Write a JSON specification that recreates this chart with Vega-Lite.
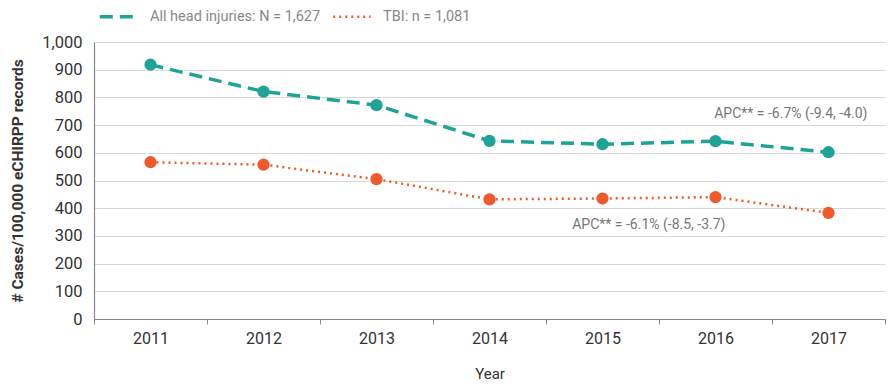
{
  "$schema": "https://vega.github.io/schema/vega-lite/v6.json",
  "width": 791,
  "height": 277,
  "autosize": "none",
  "padding": {"left": 94, "top": 42, "right": 10, "bottom": 72},
  "background": "white",
  "config": {
    "font": "Roboto",
    "view": {"stroke": null},
    "axis": {"labelFont": "Roboto", "titleFont": "Roboto"}
  },
  "datasets": {
    "main": [
      {"year": "2011", "series": "All head injuries: N = 1,627", "value": 918},
      {"year": "2012", "series": "All head injuries: N = 1,627", "value": 821},
      {"year": "2013", "series": "All head injuries: N = 1,627", "value": 772},
      {"year": "2014", "series": "All head injuries: N = 1,627", "value": 643},
      {"year": "2015", "series": "All head injuries: N = 1,627", "value": 631},
      {"year": "2016", "series": "All head injuries: N = 1,627", "value": 642},
      {"year": "2017", "series": "All head injuries: N = 1,627", "value": 602},
      {"year": "2011", "series": "TBI: n = 1,081", "value": 566},
      {"year": "2012", "series": "TBI: n = 1,081", "value": 557},
      {"year": "2013", "series": "TBI: n = 1,081", "value": 505},
      {"year": "2014", "series": "TBI: n = 1,081", "value": 432},
      {"year": "2015", "series": "TBI: n = 1,081", "value": 435},
      {"year": "2016", "series": "TBI: n = 1,081", "value": 440},
      {"year": "2017", "series": "TBI: n = 1,081", "value": 383}
    ],
    "notes1": [
      {"year": "2017", "value": 740, "label": "APC** = -6.7% (-9.4, -4.0)"}
    ],
    "notes2": [
      {"year": "2016", "value": 338, "label": "APC** = -6.1% (-8.5, -3.7)"}
    ]
  },
  "encoding": {
    "x": {
      "field": "year", "type": "ordinal", "bandPosition": 0.5,
      "scale": {"type": "band", "paddingInner": 0, "paddingOuter": 0},
      "axis": {
        "title": "Year", "titleFontSize": 15, "titleFontWeight": "normal", "titleColor": "#333",
        "titlePadding": 20, "labelAngle": 0, "labelFontSize": 16, "labelColor": "#333",
        "labelPadding": 6, "tickBand": "extent", "tickSize": 5, "tickColor": "#888",
        "domainColor": "#888", "domainWidth": 1.2, "grid": false
      }
    },
    "y": {
      "field": "value", "type": "quantitative",
      "scale": {"domain": [0, 1000], "nice": false, "zero": true},
      "axis": {
        "title": "# Cases/100,000 eCHIRPP records", "titleFontSize": 15.5, "titleFontWeight": "bold",
        "titleColor": "#333", "titlePadding": 16, "labelFontSize": 16.5, "labelColor": "#333",
        "labelPadding": 12, "ticks": false, "format": ",.0f",
        "values": [0, 100, 200, 300, 400, 500, 600, 700, 800, 900, 1000],
        "gridColor": "#d9d9d9", "domainColor": "#888", "domainWidth": 1.2
      }
    }
  },
  "layer": [
    {
      "data": {"name": "main"},
      "mark": {"type": "line", "strokeCap": "butt"},
      "encoding": {
        "color": {
          "field": "series", "type": "nominal",
          "scale": {"domain": ["All head injuries: N = 1,627", "TBI: n = 1,081"], "range": ["#1fa396", "#ee5a2a"]},
          "legend": {
            "title": null, "orient": "none", "direction": "horizontal", "legendX": 4, "legendY": -46,
            "symbolType": "stroke", "symbolSize": 1400, "labelFontSize": 14.5, "labelColor": "#888",
            "columnPadding": 7, "labelOffset": 11, "labelLimit": 400
          }
        },
        "strokeDash": {
          "field": "series", "type": "nominal",
          "scale": {"domain": ["All head injuries: N = 1,627", "TBI: n = 1,081"], "range": [[13, 7], [2, 4]]},
          "legend": {
            "title": null, "orient": "none", "direction": "horizontal", "legendX": 4, "legendY": -46,
            "symbolType": "stroke", "symbolSize": 1400, "labelFontSize": 14.5, "labelColor": "#888",
            "columnPadding": 7, "labelOffset": 11, "labelLimit": 400
          }
        },
        "strokeWidth": {
          "field": "series", "type": "nominal",
          "scale": {"domain": ["All head injuries: N = 1,627", "TBI: n = 1,081"], "range": [3.5, 2.5]},
          "legend": null
        }
      }
    },
    {
      "data": {"name": "main"},
      "mark": {"type": "point", "filled": true, "opacity": 1, "size": 150, "shape": "circle"},
      "encoding": {
        "color": {"field": "series", "type": "nominal"}
      }
    },
    {
      "data": {"name": "notes1"},
      "mark": {"type": "text", "align": "right", "baseline": "middle", "fontSize": 14, "color": "#777", "font": "Roboto", "dx": 39},
      "encoding": {
        "text": {"field": "label"}
      }
    },
    {
      "data": {"name": "notes2"},
      "mark": {"type": "text", "align": "right", "baseline": "middle", "fontSize": 14, "color": "#777", "font": "Roboto", "dx": 10},
      "encoding": {
        "text": {"field": "label"}
      }
    }
  ]
}
